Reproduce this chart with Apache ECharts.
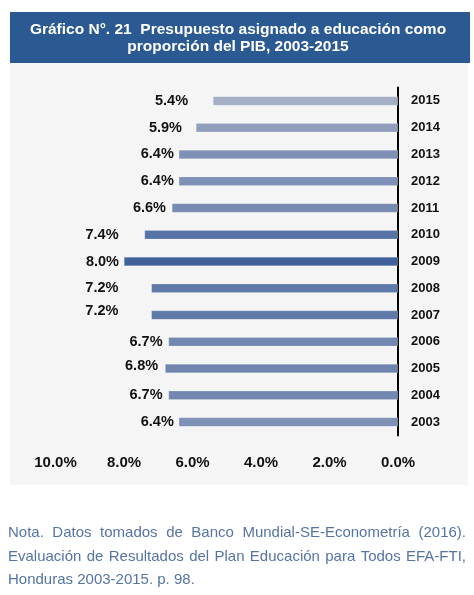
<!DOCTYPE html>
<html>
<head>
<meta charset="utf-8">
<script src="https://cdn.jsdelivr.net/npm/echarts@6/dist/echarts.min.js"></script>
<style>
html,body{margin:0;padding:0;background:#ffffff;}
#chart{width:474px;height:595px;}
</style>
</head>
<body>
<div id="chart"></div>
<script>
var years = ['2003','2004','2005','2006','2007','2008','2009','2010','2011','2012','2013','2014','2015'];
var shares = [6.4, 6.7, 6.8, 6.7, 7.2, 7.2, 8.0, 7.4, 6.6, 6.4, 6.4, 5.9, 5.4];
var tickValues = [0, 2, 4, 6, 8, 10];
var titleLines = ['Gráfico N°. 21  Presupuesto asignado a educación como', 'proporción del PIB, 2003-2015'];
var noteLines = [
  'Nota. Datos tomados de Banco Mundial-SE-Econometría (2016).',
  'Evaluación de Resultados del Plan Educación para Todos EFA-FTI,',
  'Honduras 2003-2015. p. 98.'
];
// label placement style (gap from bar end in px, vertical nudge in px), per year in order
var labelGapStyle = [5, 6, 7, 6, 33, 33, 5, 26, 6, 5, 5, 14, 25];
var labelNudgeStyle = [0, 0, -3, 0, -4, 0, 0, 0, 0, 0, 0, 0, 0];

var chart = echarts.init(document.getElementById('chart'), null, {renderer: 'canvas'});

var FONT = '"Liberation Sans", Arial, sans-serif';
var noteFontSize = 15;
var noteLeft = 8, noteRight = 466;
var measureCtx = document.createElement('canvas').getContext('2d');
measureCtx.font = noteFontSize + 'px ' + FONT;

function justifiedLine(line, yMid, justify) {
  var words = line.split(' ');
  var widths = words.map(function (w) { return measureCtx.measureText(w).width; });
  var total = widths.reduce(function (a, b) { return a + b; }, 0);
  var spaceW = measureCtx.measureText(' ').width;
  var gap = justify && words.length > 1 ? (noteRight - noteLeft - total) / (words.length - 1) : spaceW;
  var els = [];
  var x = noteLeft;
  words.forEach(function (w, i) {
    els.push({
      type: 'text', x: x, y: yMid, silent: true,
      style: {text: w, fill: '#5574A6', font: noteFontSize + 'px ' + FONT, align: 'left', verticalAlign: 'middle'}
    });
    x += widths[i] + gap;
  });
  return els;
}

var graphics = [
  {type: 'rect', shape: {x: 10, y: 63, width: 458, height: 422}, style: {fill: '#F5F5F5'}, silent: true, z: -10},
  {type: 'rect', shape: {x: 10, y: 12, width: 460, height: 51}, style: {fill: '#2B5A93'}, silent: true, z: -5},
  {type: 'text', x: 238, y: 29.5, silent: true,
    style: {text: titleLines[0], fill: '#FFFFFF', font: 'bold 15.5px ' + FONT, align: 'center', verticalAlign: 'middle'}},
  {type: 'text', x: 238, y: 47, silent: true,
    style: {text: titleLines[1], fill: '#FFFFFF', font: 'bold 15.5px ' + FONT, align: 'center', verticalAlign: 'middle'}}
];
noteLines.forEach(function (l, i) {
  graphics = graphics.concat(justifiedLine(l, 533 + i * 23.5, i < noteLines.length - 1));
});

var barData = shares.map(function (v, i) {
  return {
    value: v,
    label: {distance: labelGapStyle[i], offset: [0, labelNudgeStyle[i]]}
  };
});

var option = {
  backgroundColor: 'transparent',
  animation: false,
  graphic: graphics,
  grid: {left: 55.5, right: 76, top: 87.5, height: 348, containLabel: false},
  visualMap: {
    show: false, type: 'continuous', dimension: 0,
    min: 5.4, max: 8.0,
    inRange: {color: ['#A4AEC5', '#41619B']}
  },
  xAxis: {
    type: 'value', inverse: true, min: 0, max: 10, interval: 2,
    axisLine: {show: false}, axisTick: {show: false}, splitLine: {show: false},
    axisLabel: {
      margin: 20,
      formatter: function (v) { return tickValues.indexOf(v) >= 0 ? v.toFixed(1) + '%' : ''; },
      color: '#111111', fontWeight: 'bold', fontSize: 15, fontFamily: FONT
    }
  },
  yAxis: {
    type: 'category', data: years, position: 'right',
    axisLine: {show: true, lineStyle: {color: '#000000', width: 2}},
    axisTick: {show: false},
    axisLabel: {margin: 13, color: '#111111', fontWeight: 'bold', fontSize: 13, fontFamily: FONT}
  },
  series: [{
    type: 'bar',
    data: barData,
    barWidth: 9,
    label: {
      show: true, position: 'left',
      formatter: function (p) { return p.value.toFixed(1) + '%'; },
      color: '#111111', fontWeight: 'bold', fontSize: 14.5, fontFamily: FONT
    },
    itemStyle: {borderColor: 'rgba(255,255,255,0.35)', borderWidth: 0.5}
  }]
};
chart.setOption(option);
</script>
</body>
</html>
